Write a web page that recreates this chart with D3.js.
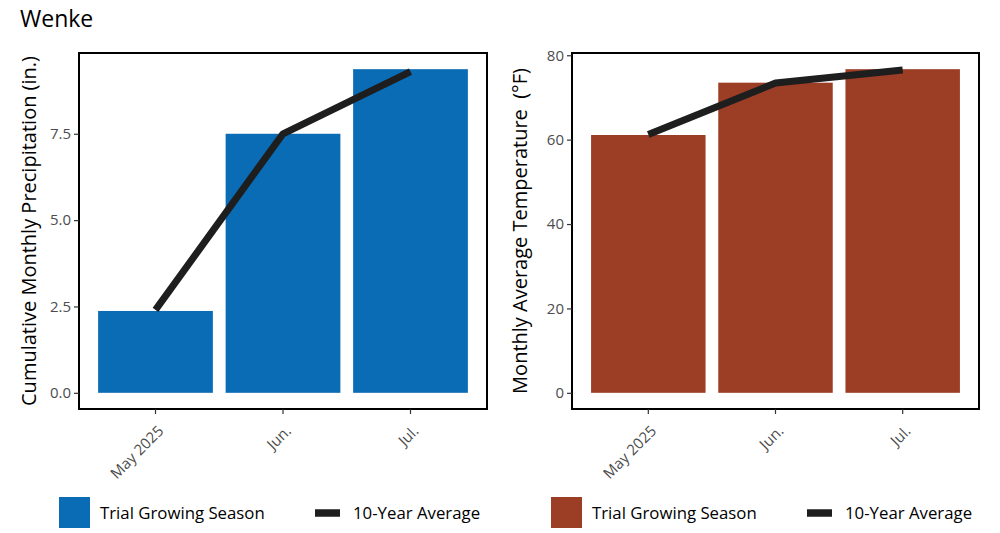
<!DOCTYPE html>
<html>
<head>
<meta charset="utf-8">
<script src="https://cdn.jsdelivr.net/npm/d3@7"></script>
<style>
  body { margin: 0; background: #fff; }
  svg { font-family: "Open Sans", "Noto Sans", sans-serif; }
</style>
</head>
<body>
<div id="chart"></div>
<script>
// month categories shared by both panels
const months = ["May 2025", "Jun.", "Jul."];

// precipitation (in.)
const precipTrial = [2.37, 7.5, 9.37];
const precipAvg = [2.4, 7.5, 9.3];
const precipTicks = [0, 2.5, 5, 7.5];

// temperature (°F)
const tempTrial = [61.1, 73.5, 76.7];
const tempAvg = [61.2, 73.4, 76.5];
const tempTicks = [0, 20, 40, 60, 80];

const legendLabels = ["Trial Growing Season", "10-Year Average"];

let svg = d3.select("#chart")
  .append("svg")
    .attr("width", 1000)
    .attr("height", 533);

svg.append("text")
    .attr("x", 20)
    .attr("y", 27)
    .style("font-size", "23px")
    .attr("fill", "#000")
    .text("Wenke");

function panel(opts){
  let left = opts.left, right = opts.right, top = 53, bottom = 409;
  let g = svg.append("g");

  let maxV = d3.max(opts.trial.concat(opts.avg));

  let xScale = d3.scaleBand()
      .domain(months)
      .range([left, right])
      .paddingInner(0.1)
      .paddingOuter(0.15);

  // ggplot-like 5% expansion
  let yScale = d3.scaleLinear()
      .domain([-0.05 * maxV, 1.05 * maxV])
      .range([bottom, top]);

  // bars
  g.append("g")
    .selectAll("rect")
    .data(opts.trial)
    .enter()
    .append("rect")
      .attr("x", (d, i) => xScale(months[i]))
      .attr("y", d => yScale(d))
      .attr("width", xScale.bandwidth())
      .attr("height", d => yScale(0) - yScale(d))
      .attr("fill", opts.color);

  // 10 year average line
  let line = d3.line()
      .x((d, i) => xScale(months[i]) + xScale.bandwidth() / 2)
      .y(d => yScale(d));

  g.append("path")
      .datum(opts.avg)
      .attr("d", line)
      .attr("fill", "none")
      .attr("stroke", "#1e1e1e")
      .attr("stroke-width", 7)
      .attr("stroke-linejoin", "round");

  // panel border
  g.append("rect")
      .attr("x", left)
      .attr("y", top)
      .attr("width", right - left)
      .attr("height", bottom - top)
      .attr("fill", "none")
      .attr("stroke", "#000")
      .attr("stroke-width", 2);

  // y axis
  let yAxis = g.append("g")
      .attr("transform", "translate(" + left + ",0)")
      .call(d3.axisLeft(yScale).tickValues(opts.ticks).tickFormat(opts.fmt).tickSize(5).tickPadding(3));
  yAxis.select(".domain").remove();
  yAxis.selectAll("line").attr("stroke", "#333").attr("stroke-width", 1.2);
  yAxis.selectAll("text")
      .attr("fill", "#4d4d4d")
      .style("font-size", "15px")
      .style("font-family", "\"Open Sans\", sans-serif");

  // x axis
  let xAxis = g.append("g")
      .attr("transform", "translate(0," + bottom + ")")
      .call(d3.axisBottom(xScale).tickSize(5).tickPadding(3));
  xAxis.select(".domain").remove();
  xAxis.selectAll("line").attr("stroke", "#333").attr("stroke-width", 1.2);
  xAxis.selectAll("text")
      .attr("fill", "#4d4d4d")
      .style("font-size", "15px")
      .style("font-family", "\"Open Sans\", sans-serif")
      .style("text-anchor", "end")
      .attr("y", 0)
      .attr("dy", "0.75em")
      .attr("transform", "translate(1,15) rotate(-45)");

  // y axis title
  svg.append("text")
      .attr("transform", "translate(" + opts.titleX + "," + ((top + bottom) / 2) + ") rotate(-90)")
      .attr("text-anchor", "middle")
      .style("font-size", "20px")
      .style("white-space", "pre")
      .attr("fill", "#000")
      .text(opts.title);

  // legend
  let lg = svg.append("g").attr("transform", "translate(" + opts.legendX + ",0)");
  lg.append("rect")
      .attr("x", 0)
      .attr("y", 497)
      .attr("width", 31)
      .attr("height", 31)
      .attr("fill", opts.color);
  lg.append("text")
      .attr("x", 41)
      .attr("y", 519)
      .style("font-size", "16.8px")
      .attr("fill", "#000")
      .text(legendLabels[0]);
  lg.append("line")
      .attr("x1", 256)
      .attr("x2", 281)
      .attr("y1", 513)
      .attr("y2", 513)
      .attr("stroke", "#1e1e1e")
      .attr("stroke-width", 7.5);
  lg.append("text")
      .attr("x", 294)
      .attr("y", 519)
      .style("font-size", "16.8px")
      .attr("fill", "#000")
      .text(legendLabels[1]);
}

panel({
  left: 79, right: 487,
  trial: precipTrial, avg: precipAvg, ticks: precipTicks,
  fmt: d3.format(".1f"),
  color: "#0b6cb6",
  title: "Cumulative Monthly Precipitation (in.)",
  titleX: 36,
  legendX: 59
});

panel({
  left: 572, right: 979,
  trial: tempTrial, avg: tempAvg, ticks: tempTicks,
  fmt: d3.format("d"),
  color: "#9c3d26",
  title: "Monthly Average Temperature  (°F)",
  titleX: 527,
  legendX: 551
});
</script>
</body>
</html>
